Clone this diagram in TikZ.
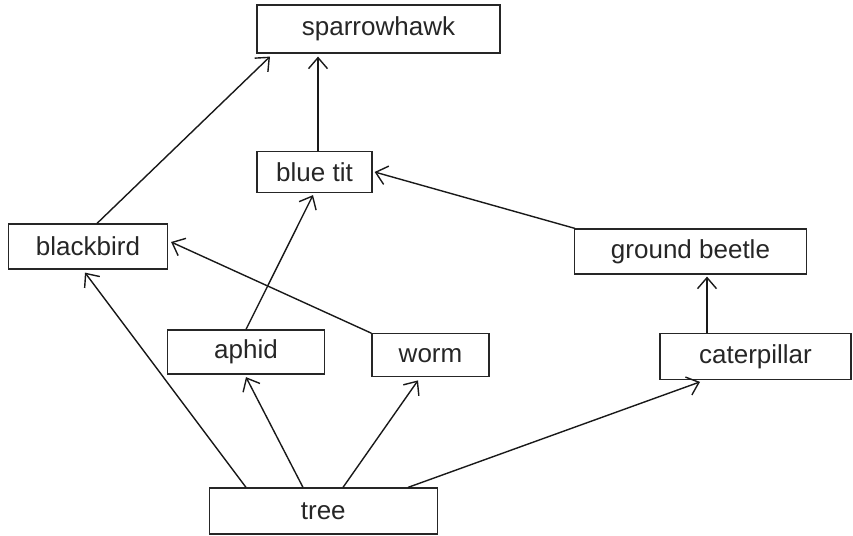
\documentclass[tikz,border=0pt]{standalone}
\usepackage{fontspec}
\setmainfont{Liberation Sans}
\usetikzlibrary{arrows.meta}
\begin{document}
\begin{tikzpicture}[x=1pt,y=-1pt,
  box/.style={draw=black!85, line width=1.2pt, rectangle, inner sep=0pt,
    font=\fontsize{26}{30}\selectfont, text=black!85},
  link/.style={draw=black!90, line width=1.4pt,
    -{Straight Barb[length=11pt,width=19pt,line width=1.4pt]}}]
\useasboundingbox (0,0) rectangle (853,535);
\node[box, minimum width=243pt, minimum height=48pt] (sh) at (378.5,29) {sparrowhawk};
\node[box, minimum width=115pt, minimum height=41pt] (bt) at (314.5,172) {blue tit};
\node[box, minimum width=159pt, minimum height=45pt] (bb) at (88,246.5) {blackbird};
\node[box, minimum width=232pt, minimum height=45pt] (gb) at (690.5,251.5) {ground beetle};
\node[box, minimum width=191pt, minimum height=46pt] (cp) at (755.5,356.3) {caterpillar};
\node[box, minimum width=157pt, minimum height=44pt] (ap) at (246,352) {aphid};
\node[box, minimum width=117pt, minimum height=43pt] (wm) at (430.5,355.3) {worm};
\node[box, minimum width=228pt, minimum height=46pt] (tr) at (323.3,511) {tree};
% blackbird -> sparrowhawk
\draw[link] ([xshift=9pt]bb.north) -- ([xshift=-108.5pt,yshift=-3pt]sh.south);
% blue tit -> sparrowhawk
\draw[link] ([xshift=3.5pt]bt.north) -- ([xshift=-60.5pt,yshift=-3pt]sh.south);
% aphid -> blue tit
\draw[link] (ap.north) -- ([xshift=-1.5pt,yshift=-2pt]bt.south);
% ground beetle -> blue tit
\draw[link] ([xshift=1pt]gb.north west) -- ([xshift=2pt]bt.east);
% worm -> blackbird
\draw[link] ([xshift=0pt]wm.north west) -- ([xshift=3pt,yshift=4.5pt]bb.east);
% caterpillar -> ground beetle
\draw[link] ([xshift=-48.5pt]cp.north) -- ([xshift=16.5pt,yshift=-2pt]gb.south);
% tree -> blackbird
\draw[link] ([xshift=-77.3pt]tr.north) -- ([xshift=-3pt,yshift=-3pt]bb.south);
% tree -> aphid
\draw[link] ([xshift=-20.3pt]tr.north) -- ([yshift=-2.5pt]ap.south);
% tree -> worm
\draw[link] ([xshift=19.7pt]tr.north) -- ([xshift=-12.5pt,yshift=-3pt]wm.south);
% tree -> caterpillar
\draw[link] ([xshift=84.7pt]tr.north) -- ([xshift=-55.5pt,yshift=-2pt]cp.south);
\end{tikzpicture}
\end{document}
